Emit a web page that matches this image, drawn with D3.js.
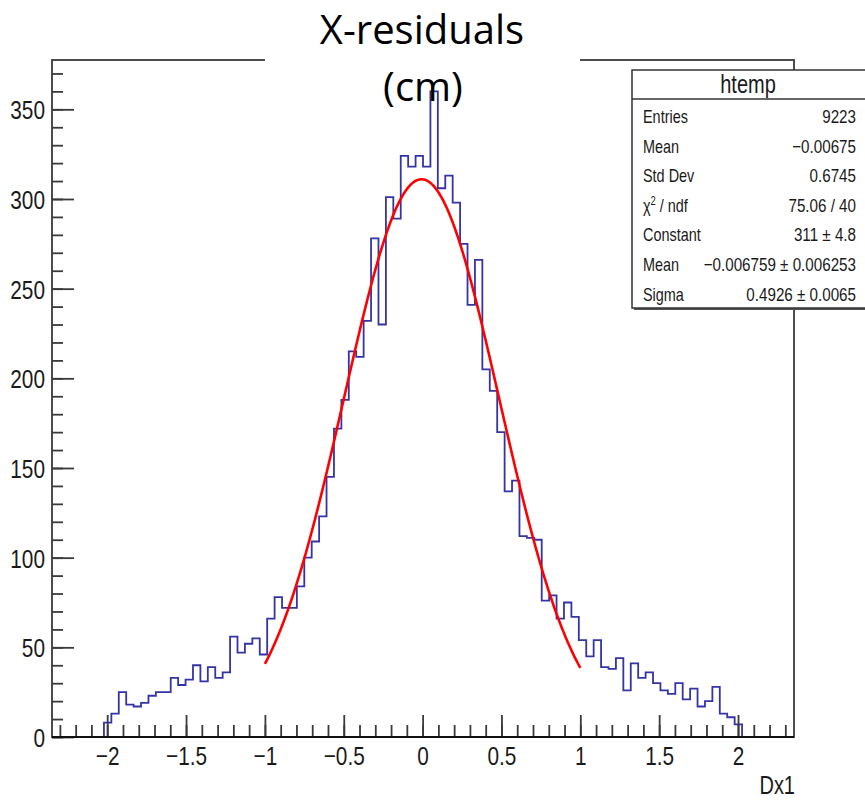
<!DOCTYPE html>
<html>
<head>
<meta charset="utf-8">
<script src="https://cdn.jsdelivr.net/npm/d3@7"></script>
<style>
  html, body { margin: 0; padding: 0; background: #fff; }
  svg { display: block; }
</style>
</head>
<body>
<svg id="chart" width="865" height="800"></svg>
<script>
// ---------------- data ----------------
const histName = "htemp";
const xLabel = "Dx1";
const titleLines = ["X-residuals", "(cm)"];
const xLow = -2.35, xHigh = 2.355;       // histogram axis range (100 bins)
const yTop = 377.5;                      // y axis maximum
const counts = [
  0, 0, 0, 0, 0, 0, 0,
  8, 13, 25, 18, 17, 19, 23, 25, 25, 33, 29, 32, 40, 31, 39, 33, 36, 56, 47, 52, 55, 46, 66,
  78, 72, 72, 84, 100, 109, 123, 145, 172, 188, 215, 212, 232, 278, 230, 301, 289, 324, 318, 324, 318,
  360, 306, 313, 298, 275, 241, 266, 205, 193, 170, 137, 143, 112, 111, 110,
  76, 79, 66, 75, 67, 54, 45, 54, 39, 38, 44, 26, 41, 33, 36, 30, 26, 24, 30, 21, 27, 17, 20, 28, 13, 11, 7,
  0, 0, 0, 0, 0, 0, 0
];
const xMajorTicks = [-2, -1.5, -1, -0.5, 0, 0.5, 1, 1.5, 2];
const xMinorTicks = d3.range(-23, 24).map(d => d / 10);
const yMajorTicks = [0, 50, 100, 150, 200, 250, 300, 350];
const yMinorTicks = d3.range(0, 371, 10);
// fit (gaus) parameters as shown in the stats box
const fitConstant = 311, fitMean = -0.006759, fitSigma = 0.4926;
const fitRange = [-1, 1];
const statLabels = ["Entries", "Mean", "Std Dev", "χ2 / ndf", "Constant", "Mean", "Sigma"];
const statValues = ["9223", "−0.00675", "0.6745", "75.06 / 40", "311 ± 4.8", "−0.006759 ± 0.006253", "0.4926 ± 0.0065"];

// ---------------- layout ----------------
const svg = d3.select("#chart");
const L = 52, R = 794, T = 60, B = 737;
const sx = 0.8; // horizontal squeeze of the ROOT text
const rootFont = "'Liberation Sans', Arial, Helvetica, sans-serif";

const x = d3.scaleLinear().domain([xLow, xHigh]).range([L, R]);
const y = d3.scaleLinear().domain([0, yTop]).range([B, T]);

// frame
svg.append("rect").attr("x", L).attr("y", T).attr("width", R - L).attr("height", B - T)
  .attr("fill", "#fff").attr("stroke", "#3a3a3a").attr("stroke-width", 1.8);

// histogram
const nb = counts.length;
const bw = (xHigh - xLow) / nb;
const pts = counts.map((c, i) => [xLow + i * bw, c]);
pts.push([xHigh, counts[nb - 1]]);
const histLine = d3.line().x(d => x(d[0])).y(d => y(d[1])).curve(d3.curveStepAfter);
svg.append("path").attr("d", histLine(pts)).attr("fill", "none")
  .attr("stroke", "#3434a6").attr("stroke-width", 1.8);

// fit curve
const fitX = d3.range(0, 401).map(k => fitRange[0] + (fitRange[1] - fitRange[0]) * k / 400);
const gaus = v => fitConstant * Math.exp(-0.5 * Math.pow((v - fitMean) / fitSigma, 2));
svg.append("path").attr("d", d3.line().x(d => x(d)).y(d => y(gaus(d)))(fitX))
  .attr("fill", "none").attr("stroke", "#ff0000").attr("stroke-width", 2.6);

// axes
function styleAxis(g) {
  g.select(".domain").remove();
  g.selectAll(".tick line").attr("stroke", "#3a3a3a").attr("stroke-width", 1.8);
}
const gyMinor = svg.append("g").attr("transform", `translate(${L},0)`)
  .call(d3.axisLeft(y).tickValues(yMinorTicks).tickSize(-11).tickFormat(""));
styleAxis(gyMinor);
const gy = svg.append("g").attr("transform", `translate(${L},0)`)
  .call(d3.axisLeft(y).tickValues(yMajorTicks).tickSize(-22).tickFormat(d3.format("d")));
styleAxis(gy);
gy.selectAll(".tick text")
  .attr("x", -7 / sx).attr("dy", "0.36em")
  .attr("transform", `scale(${sx},1)`)
  .attr("font-family", rootFont).attr("font-size", 26).attr("fill", "#1a1a1a");

const gxMinor = svg.append("g").attr("transform", `translate(0,${B})`)
  .call(d3.axisBottom(x).tickValues(xMinorTicks).tickSize(-12).tickFormat(""));
styleAxis(gxMinor);
const gx = svg.append("g").attr("transform", `translate(0,${B})`)
  .call(d3.axisBottom(x).tickValues(xMajorTicks).tickSize(-22)
    .tickFormat(d => (d < 0 ? "−" : "") + d3.format("")(Math.abs(d))));
styleAxis(gx);
gx.selectAll(".tick text")
  .attr("y", 28).attr("dy", 0)
  .attr("transform", `scale(${sx},1)`)
  .attr("font-family", rootFont).attr("font-size", 26).attr("fill", "#1a1a1a");

// bottom axis line drawn over
svg.append("line").attr("x1", L).attr("x2", R).attr("y1", B).attr("y2", B)
  .attr("stroke", "#111").attr("stroke-width", 2);

// x-axis title
svg.append("text").attr("transform", `translate(${R + 1},794) scale(${sx},1)`)
  .attr("text-anchor", "end").attr("font-family", rootFont).attr("font-size", 25)
  .attr("fill", "#1a1a1a").text(xLabel);

// stats box
const bx = 632, by = 70, bwid = 240, bh = 238, headH = 29;
svg.append("rect").attr("x", bx + 2).attr("y", by + 2).attr("width", bwid).attr("height", bh)
  .attr("fill", "#555");
svg.append("rect").attr("x", bx).attr("y", by).attr("width", bwid).attr("height", bh)
  .attr("fill", "#fff").attr("stroke", "#333").attr("stroke-width", 1.5);
svg.append("line").attr("x1", bx).attr("x2", bx + bwid).attr("y1", by + headH).attr("y2", by + headH)
  .attr("stroke", "#333").attr("stroke-width", 1.5);
svg.append("text").attr("transform", `translate(748,${by + 23}) scale(${sx},1)`)
  .attr("text-anchor", "middle").attr("font-family", rootFont).attr("font-size", 25)
  .attr("fill", "#1a1a1a").text(histName);

const rowY = d3.scaleLinear().domain([0, 1]).range([123, 152.6]);
statLabels.forEach((lab, i) => {
  const t = svg.append("text").attr("transform", `translate(643,${rowY(i)}) scale(0.78,1)`)
    .attr("font-family", rootFont).attr("font-size", 18.5).attr("fill", "#1a1a1a");
  if (lab.indexOf("χ2") === 0) {
    t.append("tspan").text("χ");
    t.append("tspan").attr("font-size", 12).attr("dy", -7).text("2");
    t.append("tspan").attr("dy", 7).text(lab.slice(2));
  } else {
    t.text(lab);
  }
  svg.append("text").attr("transform", `translate(856,${rowY(i)}) scale(0.8,1)`)
    .attr("text-anchor", "end").attr("font-family", rootFont).attr("font-size", 19)
    .attr("fill", "#1a1a1a").text(statValues[i]);
});

// title overlay
svg.append("rect").attr("x", 265).attr("y", 0).attr("width", 315).attr("height", 63).attr("fill", "#fff");
svg.append("text").attr("x", 422).attr("y", 44).attr("text-anchor", "middle")
  .attr("font-family", "'Open Sans', sans-serif").attr("font-size", 40).attr("fill", "#000")
  .text(titleLines[0]);
svg.append("text").attr("x", 423).attr("y", 101).attr("text-anchor", "middle")
  .attr("font-family", "'Open Sans', sans-serif").attr("font-size", 40).attr("fill", "#000")
  .text(titleLines[1]);
</script>
</body>
</html>
